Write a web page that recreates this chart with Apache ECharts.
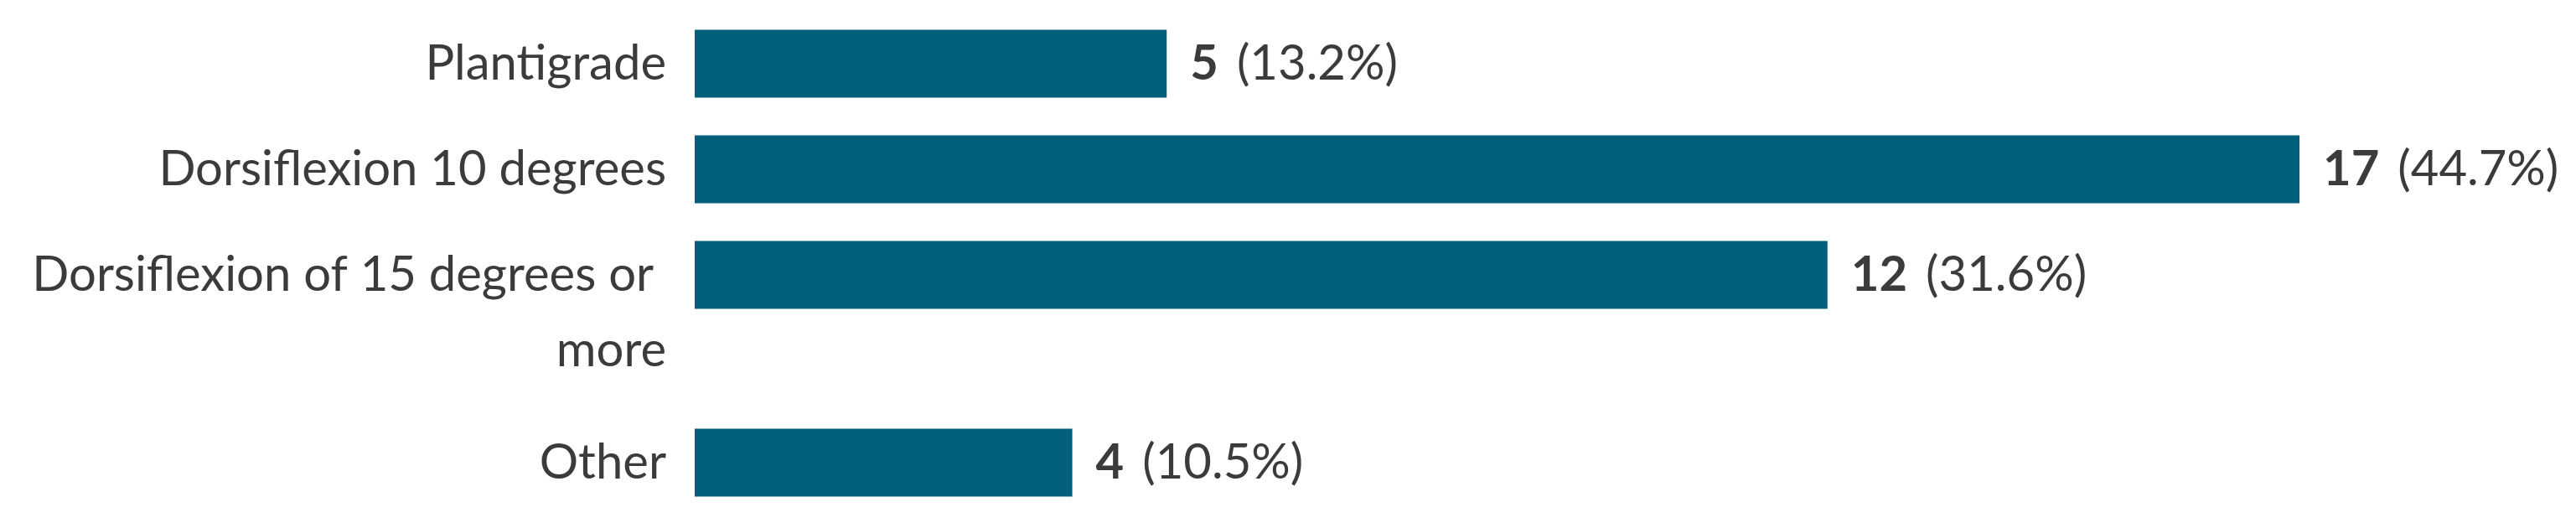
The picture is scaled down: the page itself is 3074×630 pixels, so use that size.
<!DOCTYPE html>
<html>
<head>
<meta charset="utf-8">
<script src="https://cdn.jsdelivr.net/npm/echarts@6/dist/echarts.min.js"></script>
<style>
    html, body { margin: 0; padding: 0; background: #fff; }
    #chart { width: 3074px; height: 630px; }
</style>
</head>
<body>
<div id="chart"></div>
<script>
var categories = ['Plantigrade', 'Dorsiflexion 10 degrees', 'Dorsiflexion of 15 degrees or \nmore', 'Other'];
var counts = [5, 17, 12, 4];
var shares = ['13.2%', '44.7%', '31.6%', '10.5%'];

var barColor = '#005f7b';
var textColor = '#3b3b3b';
var font = 'Lato';
var fontSize = 58;

// the wrapped label pushes "Other" further down, so it gets its own grid
var groups = [[0, 1, 2], [3]];
var gridTops = [13, 489];
var rowHeight = 126;

var grids = [], xAxes = [], yAxes = [], series = [];

groups.forEach(function (idx, g) {
    grids.push({ left: 829, right: 330, top: gridTops[g], height: rowHeight * idx.length });
    xAxes.push({ type: 'value', gridIndex: g, min: 0, max: 17, show: false });
    yAxes.push({
        type: 'category',
        gridIndex: g,
        inverse: true,
        axisLine: { show: false },
        axisTick: { show: false },
        splitLine: { show: false },
        axisLabel: {
            interval: 0,
            margin: 34,
            fontFamily: font,
            fontSize: fontSize,
            lineHeight: 90,
            color: textColor,
            // blank first line so the first real line sits level with the bar
            formatter: function (v) {
                return v.indexOf('\n') >= 0 ? ' \n' + v : v;
            }
        },
        data: idx.map(function (i) { return categories[i]; })
    });
    series.push({
        type: 'bar',
        xAxisIndex: g,
        yAxisIndex: g,
        barWidth: 81,
        itemStyle: { color: barColor },
        label: {
            show: true,
            position: 'right',
            distance: 28,
            fontFamily: font,
            formatter: function (p) {
                var i = idx[p.dataIndex];
                return '{v|' + counts[i] + '}{p|(' + shares[i] + ')}';
            },
            rich: {
                v: { fontFamily: font, fontSize: fontSize, fontWeight: 'bold', color: textColor },
                p: { fontFamily: font, fontSize: fontSize, color: textColor, padding: [0, 0, 0, 22] }
            }
        },
        silent: true,
        animation: false,
        data: idx.map(function (i) { return counts[i]; })
    });
});

var myChart = echarts.init(document.getElementById('chart'));
var option = {
    backgroundColor: '#fff',
    animation: false,
    grid: grids,
    xAxis: xAxes,
    yAxis: yAxes,
    series: series
};
myChart.setOption(option, true);

window.addEventListener('resize', function () {
    myChart.resize();
});
</script>
</body>
</html>
